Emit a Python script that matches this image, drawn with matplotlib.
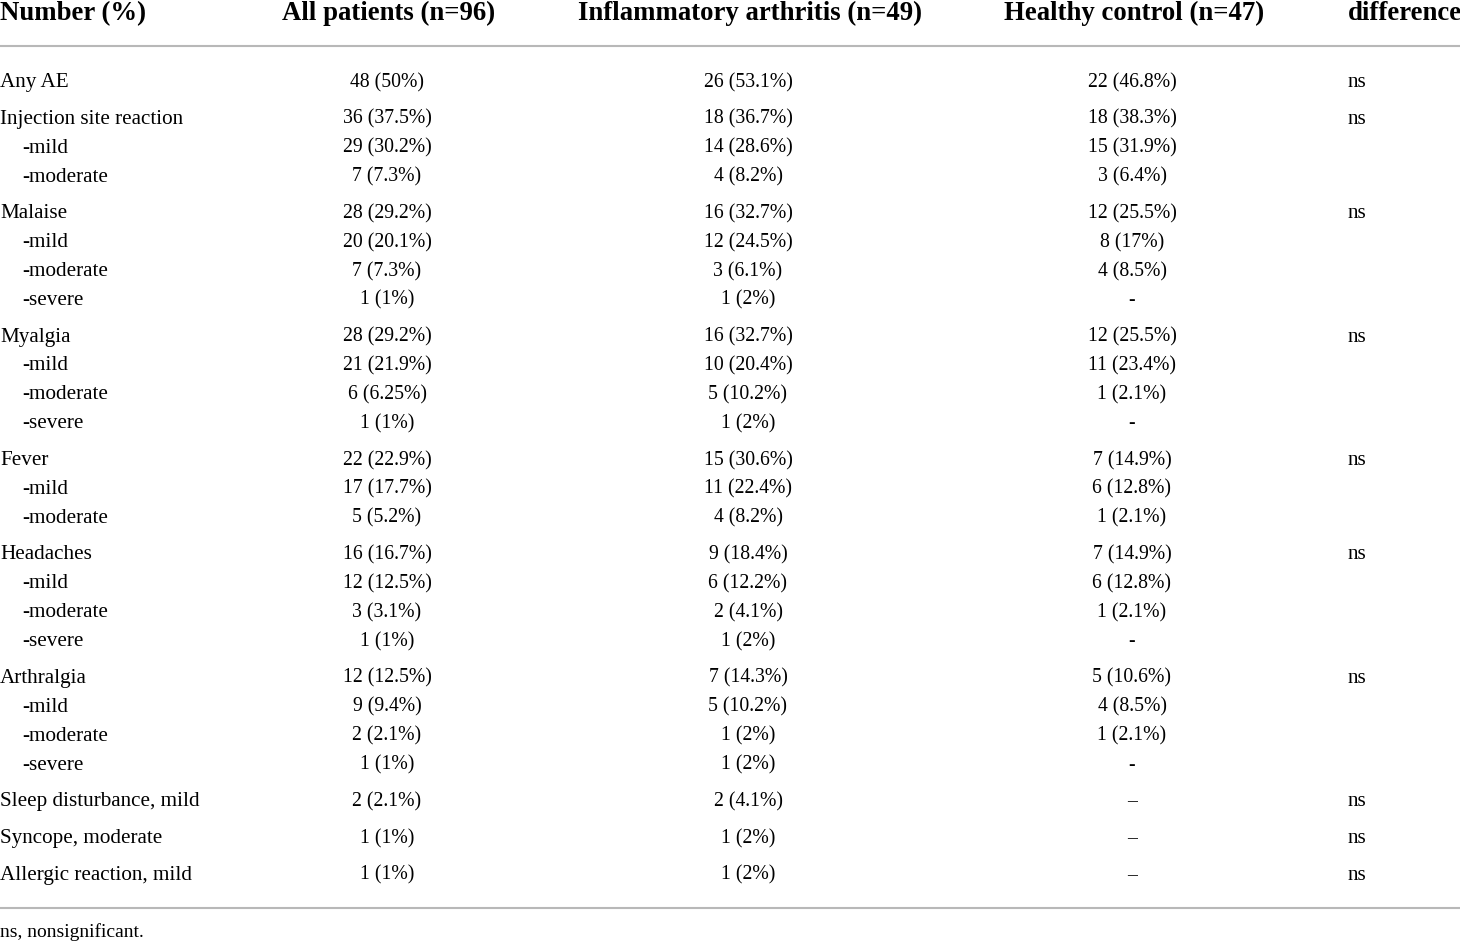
import matplotlib.pyplot as plt

# table content
headers = ["Number (%)", "All patients (n=96)", "Inflammatory arthritis (n=49)",
           "Healthy control (n=47)", "difference"]
labels = ["Any AE", "Injection site reaction", "-mild", "-moderate",
          "Malaise", "-mild", "-moderate", "-severe",
          "Myalgia", "-mild", "-moderate", "-severe",
          "Fever", "-mild", "-moderate",
          "Headaches", "-mild", "-moderate", "-severe",
          "Arthralgia", "-mild", "-moderate", "-severe",
          "Sleep disturbance, mild", "Syncope, moderate", "Allergic reaction, mild"]
all_patients = ["48 (50%)", "36 (37.5%)", "29 (30.2%)", "7 (7.3%)",
                "28 (29.2%)", "20 (20.1%)", "7 (7.3%)", "1 (1%)",
                "28 (29.2%)", "21 (21.9%)", "6 (6.25%)", "1 (1%)",
                "22 (22.9%)", "17 (17.7%)", "5 (5.2%)",
                "16 (16.7%)", "12 (12.5%)", "3 (3.1%)", "1 (1%)",
                "12 (12.5%)", "9 (9.4%)", "2 (2.1%)", "1 (1%)",
                "2 (2.1%)", "1 (1%)", "1 (1%)"]
inflammatory = ["26 (53.1%)", "18 (36.7%)", "14 (28.6%)", "4 (8.2%)",
                "16 (32.7%)", "12 (24.5%)", "3 (6.1%)", "1 (2%)",
                "16 (32.7%)", "10 (20.4%)", "5 (10.2%)", "1 (2%)",
                "15 (30.6%)", "11 (22.4%)", "4 (8.2%)",
                "9 (18.4%)", "6 (12.2%)", "2 (4.1%)", "1 (2%)",
                "7 (14.3%)", "5 (10.2%)", "1 (2%)", "1 (2%)",
                "2 (4.1%)", "1 (2%)", "1 (2%)"]
healthy = ["22 (46.8%)", "18 (38.3%)", "15 (31.9%)", "3 (6.4%)",
           "12 (25.5%)", "8 (17%)", "4 (8.5%)", "-",
           "12 (25.5%)", "11 (23.4%)", "1 (2.1%)", "-",
           "7 (14.9%)", "6 (12.8%)", "1 (2.1%)",
           "7 (14.9%)", "6 (12.8%)", "1 (2.1%)", "-",
           "5 (10.6%)", "4 (8.5%)", "1 (2.1%)", "-",
           "\u2013", "\u2013", "\u2013"]
difference = ["ns", "ns", "", "",
              "ns", "", "", "",
              "ns", "", "", "",
              "ns", "", "",
              "ns", "", "", "",
              "ns", "", "", "",
              "ns", "ns", "ns"]
footnote = "ns, nonsignificant."

W, H = 1460, 942
plt.rcParams["font.family"] = ["Liberation Serif", "DejaVu Serif"]

fig = plt.figure(figsize=(W / 100, H / 100), dpi=100)
ax = fig.add_axes([0, 0, 1, 1])
ax.set_xlim(0, W)
ax.set_ylim(H, 0)
ax.axis("off")

label_size = 15.2
num_size = 14.2
head_size = 19.3
center_x = [387, 748, 1132]
diff_x = 1348
line_col = "#b8b8b8"

# header (baseline positioned)
hy = 20
ax.text(0, hy, headers[0], ha="left", va="baseline", fontsize=head_size, fontweight="bold")
for cx, h in zip(center_x, headers[1:4]):
    ax.text(cx + 2, hy, h, ha="center", va="baseline", fontsize=head_size, fontweight="bold")
ax.text(diff_x, hy, headers[4], ha="left", va="baseline", fontsize=head_size, fontweight="bold")

ax.plot([0, W], [46, 46], color=line_col, lw=1.5, solid_capstyle="butt")

# rows: main rows get a larger gap than sub rows
y = 87.0
for i, lab in enumerate(labels):
    if i > 0:
        y += 28.9 if lab.startswith("-") else 36.7
    lx = 22 if lab.startswith("-") else 0
    ax.text(lx, y, lab, ha="left", va="baseline", fontsize=label_size)
    for cx, col in zip(center_x, (all_patients, inflammatory, healthy)):
        ax.text(cx, y, col[i], ha="center", va="baseline", fontsize=num_size)
    if difference[i]:
        ax.text(diff_x, y, difference[i], ha="left", va="baseline", fontsize=label_size)

ax.plot([0, W], [908, 908], color=line_col, lw=1.5, solid_capstyle="butt")
ax.text(0, 937, footnote, ha="left", va="baseline", fontsize=14)

fig.savefig("out.png", dpi=100, facecolor="white")
